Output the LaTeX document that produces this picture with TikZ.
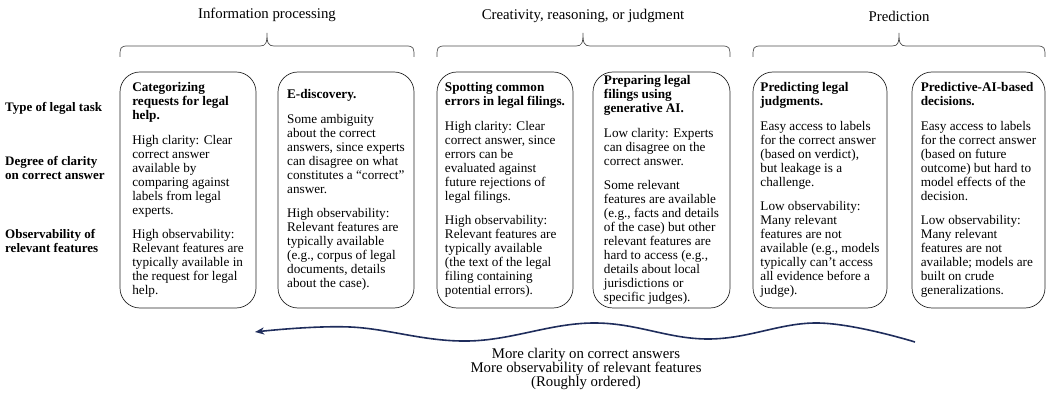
\documentclass[tikz,border=0pt]{standalone}
\usepackage{fontspec}
\setmainfont{Liberation Serif}
\usetikzlibrary{arrows.meta}
\definecolor{navy}{HTML}{1F2D5C}
\newcommand\mybrace[3]{%
  \draw[bracestyle] (#1,57) .. controls (#1,48) and (#1,46) .. (#1+8,46)
    -- (#3-7,46) .. controls (#3-1,46) and (#3,43) .. (#3,33)
    .. controls (#3,43) and (#3+1,46) .. (#3+7,46)
    -- (#2-8,46) .. controls (#2,46) and (#2,48) .. (#2,57);}
\begin{document}
\begin{tikzpicture}[x=1pt,y=-1pt,
  box/.style={draw=black!85, line width=0.7pt, rounded corners=20pt,
    minimum width=#1, minimum height=236pt, align=left, inner sep=0pt,
    font=\fontsize{13.2}{14}\selectfont},
  title/.style={font=\fontsize{14.8}{14.5}\selectfont, inner sep=0pt},
  rowlab/.style={font=\fontsize{13}{14.3}\selectfont\bfseries, align=left,
    anchor=west, inner sep=0pt},
  bracestyle/.style={draw=black!70, line width=0.7pt},
  wave/.style={draw=navy, line width=1.6pt,
    -{Stealth[length=9pt,width=7pt,inset=2.5pt]}}]
\useasboundingbox (0,0) rectangle (1047,395);

% headers
\node[title] (h1) at (267,15) {Information processing};
\node[title] (h2) at (583,16) {Creativity, reasoning, or judgment};
\node[title] (h3) at (899,16) {Prediction};

% braces
\mybrace{120}{414}{267}
\mybrace{437}{730}{583}
\mybrace{753}{1045}{899}

% row labels
\node[rowlab] (l1) at (5,108) {Type of legal task};
\node[rowlab] (l2) at (5,168) {Degree of clarity\\on correct answer};
\node[rowlab] (l3) at (5,241) {Observability of\\relevant features};

% boxes
\node[box=136pt] (b1) at (188,190) {%
\textbf{Categorizing}\\\textbf{requests for legal}\\\textbf{help.}\\[10.5pt]
High clarity: Clear\\correct answer\\available by\\comparing against\\labels from legal\\experts.\\[10.5pt]
High observability:\\Relevant features are\\typically available in\\the request for legal\\help.};

\node[box=136pt] (b2) at (346,190) {%
\textbf{E-discovery.}\\[10.5pt]
Some ambiguity\\about the correct\\answers, since experts\\can disagree on what\\constitutes a ``correct''\\answer.\\[10.5pt]
High observability:\\Relevant features are\\typically available\\(e.g., corpus of legal\\documents, details\\about the case).};

\node[box=136pt] (b3) at (505,190) {%
\textbf{Spotting common}\\\textbf{errors in legal filings.}\\[10.5pt]
High clarity: Clear\\correct answer, since\\errors can be\\evaluated against\\future rejections of\\legal filings.\\[10.5pt]
High observability:\\Relevant features are\\typically available\\(the text of the legal\\filing containing\\potential errors).};

\node[box=137pt] (b4) at (661.5,190) {%
\textbf{Preparing legal}\\\textbf{filings using}\\\textbf{generative AI.}\\[10.5pt]
Low clarity: Experts\\can disagree on the\\correct answer.\\[10.5pt]
Some relevant\\features are available\\(e.g., facts and details\\of the case) but other\\relevant features are\\hard to access (e.g.,\\details about local\\jurisdictions or\\specific judges).};

\node[box=134pt] (b5) at (820,190) {%
\textbf{Predicting legal}\\\textbf{judgments.}\\[10.5pt]
Easy access to labels\\for the correct answer\\(based on verdict),\\but leakage is a\\challenge.\\[10.5pt]
Low observability:\\Many relevant\\features are not\\available (e.g., models\\typically can’t access\\all evidence before a\\judge).};

\node[box=133pt] (b6) at (978.5,190) {%
\textbf{Predictive-AI-based}\\\textbf{decisions.}\\[10.5pt]
Easy access to labels\\for the correct answer\\(based on future\\outcome) but hard to\\model effects of the\\decision.\\[10.5pt]
Low observability:\\Many relevant\\features are not\\available; models are\\built on crude\\generalizations.};

% wave arrow
\coordinate (ws) at (915,342);
\coordinate (we) at (255,332);
\draw[wave] plot[smooth, tension=0.65] coordinates
  {(ws) (818,323) (708,339) (593,323) (468,341) (350,327) (we)};

% caption
\node[title, align=center, font=\fontsize{14.8}{14.3}\selectfont] (cap) at (586,369)
  {More clarity on correct answers\\More observability of relevant features\\(Roughly ordered)};
\end{tikzpicture}
\end{document}
